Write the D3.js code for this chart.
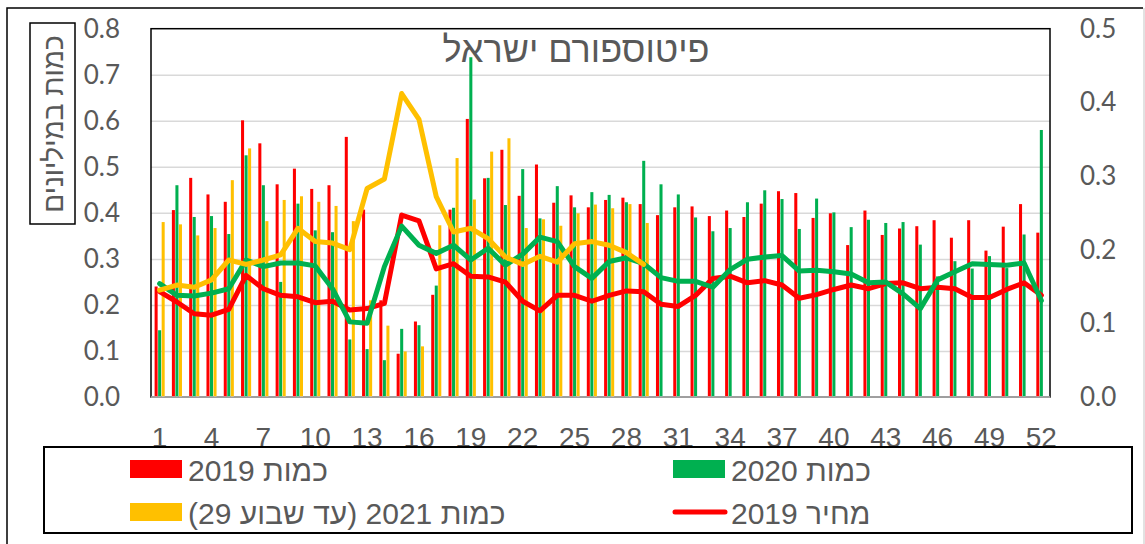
<!DOCTYPE html>
<html>
<head>
<meta charset="utf-8">
<script src="https://cdn.jsdelivr.net/npm/d3@7"></script>
<style>
  html, body { margin: 0; padding: 0; background: #fff; }
  svg { display: block; }
</style>
</head>
<body>
<svg id="chart" width="1145" height="544"></svg>
<script>

// weekly data

var weeks = d3.range(1, 53);

var qty2019 = [0.240, 0.406, 0.476, 0.440, 0.424, 0.601, 0.551, 0.462, 0.496, 0.452,
               0.460, 0.565, 0.407, 0.210, 0.094, 0.164, 0.222, 0.407, 0.604, 0.475,
               0.537, 0.437, 0.505, 0.422, 0.438, 0.412, 0.428, 0.433, 0.419, 0.395,
               0.412, 0.414, 0.393, 0.405, 0.391, 0.420, 0.447, 0.443, 0.389, 0.399,
               0.330, 0.405, 0.352, 0.366, 0.371, 0.384, 0.346, 0.384, 0.318, 0.370,
               0.419, 0.357];

var qty2020 = [0.145, 0.460, 0.391, 0.393, 0.354, 0.525, 0.460, 0.250, 0.420, 0.362,
               0.358, 0.125, 0.104, 0.080, 0.148, 0.156, 0.242, 0.411, 0.738, 0.476,
               0.417, 0.495, 0.388, 0.458, 0.412, 0.445, 0.439, 0.423, 0.513, 0.462,
               0.440, 0.390, 0.360, 0.367, 0.423, 0.449, 0.430, 0.365, 0.431, 0.401,
               0.369, 0.385, 0.378, 0.380, 0.331, 0.262, 0.295, 0.279, 0.306, 0.280,
               0.353, 0.580];

// 2021 only up to week 29
var qty2021 = [0.380, 0.375, 0.351, 0.367, 0.471, 0.540, 0.382, 0.428, 0.436, 0.424,
               0.415, 0.382, 0.210, 0.155, 0.099, 0.110, 0.373, 0.519, 0.429, 0.533,
               0.562, 0.367, 0.386, 0.372, 0.399, 0.418, 0.410, 0.419, 0.378];

var price2019 = [0.143, 0.129, 0.113, 0.111, 0.119, 0.165, 0.147, 0.138, 0.136, 0.128,
                 0.130, 0.118, 0.120, 0.127, 0.247, 0.239, 0.174, 0.181, 0.164, 0.163,
                 0.156, 0.130, 0.117, 0.138, 0.138, 0.130, 0.138, 0.144, 0.143, 0.126,
                 0.123, 0.138, 0.161, 0.164, 0.155, 0.158, 0.152, 0.134, 0.139, 0.146,
                 0.152, 0.147, 0.154, 0.155, 0.147, 0.149, 0.147, 0.135, 0.135, 0.146,
                 0.155, 0.138];

var price2020 = [0.154, 0.138, 0.137, 0.141, 0.147, 0.186, 0.177, 0.182, 0.182, 0.178,
                 0.147, 0.102, 0.100, 0.177, 0.232, 0.206, 0.195, 0.206, 0.186, 0.202,
                 0.179, 0.194, 0.217, 0.211, 0.177, 0.161, 0.184, 0.189, 0.181, 0.162,
                 0.157, 0.157, 0.149, 0.173, 0.187, 0.190, 0.192, 0.171, 0.172, 0.170,
                 0.167, 0.155, 0.156, 0.140, 0.120, 0.159, 0.170, 0.181, 0.180, 0.179,
                 0.182, 0.131];

var price2021 = [0.145, 0.152, 0.149, 0.159, 0.186, 0.180, 0.186, 0.193, 0.229, 0.211,
                 0.209, 0.200, 0.283, 0.296, 0.412, 0.377, 0.272, 0.224, 0.229, 0.215,
                 0.190, 0.180, 0.191, 0.183, 0.208, 0.211, 0.206, 0.196, 0.180];

var leftTicks = [0, 0.1, 0.2, 0.3, 0.4, 0.5, 0.6, 0.7, 0.8];
var rightTicks = [0, 0.1, 0.2, 0.3, 0.4, 0.5];
var weekLabels = weeks.filter(function(w) { return (w - 1) % 3 === 0; });

var title = "פיטוספורם ישראל";
var yTitle = "כמות במיליונים";
var RLM = "\u200F";

var barSeries = [
    { key: "2019", values: qty2019, color: "#FF0000", label: "כמות 2019" },
    { key: "2020", values: qty2020, color: "#00B050", label: "כמות 2020" },
    { key: "2021", values: qty2021, color: "#FFC000", label: "כמות 2021 (עד שבוע 29)" }
];

var lineSeries = [
    { key: "p2019", values: price2019, color: "#FF0000", label: "מחיר 2019" },
    { key: "p2020", values: price2020, color: "#00B050" },
    { key: "p2021", values: price2021, color: "#FFC000" }
];

// layout

var plot = { left: 151, right: 1050, top: 28.7, bottom: 397 };
var textGray = "#595959";
var hebFont = "'Liberation Sans', 'DejaVu Sans', sans-serif";

var svg = d3.select("#chart");

var x0 = d3.scaleBand()
    .domain(weeks)
    .range([plot.left, plot.right])
    .padding(0);

var x1 = d3.scaleBand()
    .domain(barSeries.map(function(s) { return s.key; }))
    .range([3.6, x0.bandwidth() - 3.6])
    .paddingInner(0.14);

var yLeft = d3.scaleLinear().domain([0, 0.8]).range([plot.bottom, plot.top]);
var yRight = d3.scaleLinear().domain([0, 0.5]).range([plot.bottom, plot.top]);

// outer chart frame
svg.append("path")
    .attr("d", "M7,560 L7,8 L1143,8")
    .attr("fill", "none")
    .attr("stroke", "#000")
    .attr("stroke-width", 1.5);
svg.append("line")
    .attr("x1", 1144).attr("x2", 1144).attr("y1", 8).attr("y2", 544)
    .attr("stroke", "#d9d9d9").attr("stroke-width", 1.5);

// gridlines
svg.append("g")
    .attr("transform", "translate(" + plot.left + ",0)")
    .call(d3.axisLeft(yLeft)
        .tickValues(leftTicks.slice(1, -1))
        .tickSize(-(plot.right - plot.left))
        .tickFormat(""))
    .call(function(g) { g.select(".domain").remove(); })
    .selectAll("line")
    .attr("stroke", "#d9d9d9")
    .attr("stroke-width", 1.5);

// plot frame
svg.append("rect")
    .attr("x", plot.left)
    .attr("y", plot.top)
    .attr("width", plot.right - plot.left)
    .attr("height", plot.bottom - plot.top)
    .attr("fill", "none")
    .attr("stroke", "#000")
    .attr("stroke-width", 1.5);

// bars
var groups = svg.append("g").selectAll("g")
    .data(barSeries)
    .enter().append("g")
    .attr("fill", function(s) { return s.color; });

groups.selectAll("rect")
    .data(function(s) {
        return s.values.map(function(v, i) { return { key: s.key, week: weeks[i], value: v }; });
    })
    .enter().append("rect")
    .attr("x", function(d) { return x0(d.week) + x1(d.key); })
    .attr("width", x1.bandwidth())
    .attr("y", function(d) { return yLeft(d.value); })
    .attr("height", function(d) { return plot.bottom - yLeft(d.value); });

// x axis line
svg.append("line")
    .attr("x1", plot.left).attr("x2", plot.right)
    .attr("y1", plot.bottom).attr("y2", plot.bottom)
    .attr("stroke", "#bfbfbf")
    .attr("stroke-width", 1.5);

// price lines
var line = d3.line()
    .x(function(d, i) { return x0(weeks[i]) + x0.bandwidth() / 2; })
    .y(function(d) { return yRight(d); });

svg.append("g").selectAll("path")
    .data(lineSeries)
    .enter().append("path")
    .attr("d", function(s) { return line(s.values); })
    .attr("fill", "none")
    .attr("stroke", function(s) { return s.color; })
    .attr("stroke-width", 5)
    .attr("stroke-linejoin", "round")
    .attr("stroke-linecap", "round");

// axes
var leftAxis = svg.append("g")
    .attr("transform", "translate(" + plot.left + ",0)")
    .call(d3.axisLeft(yLeft).tickValues(leftTicks).tickSize(0).tickPadding(31).tickFormat(d3.format(".1f")));

var rightAxis = svg.append("g")
    .attr("transform", "translate(" + plot.right + ",0)")
    .call(d3.axisRight(yRight).tickValues(rightTicks).tickSize(0).tickPadding(30).tickFormat(d3.format(".1f")));

var bottomAxis = svg.append("g")
    .attr("transform", "translate(0," + plot.bottom + ")")
    .call(d3.axisBottom(x0).tickValues(weekLabels).tickSize(0).tickPadding(30));

[leftAxis, rightAxis, bottomAxis].forEach(function(g) {
    g.select(".domain").remove();
});

leftAxis.selectAll("text").attr("font-family", "Lato, 'Open Sans', sans-serif").attr("font-size", 26).attr("fill", textGray);
rightAxis.selectAll("text").attr("font-family", "Lato, 'Open Sans', sans-serif").attr("font-size", 26).attr("fill", textGray);
bottomAxis.selectAll("text").attr("font-family", "'Liberation Sans', Arial, sans-serif").attr("font-size", 28).attr("fill", textGray);

// title
svg.append("text")
    .attr("x", 576)
    .attr("y", 62)
    .attr("text-anchor", "middle")
    .attr("font-family", hebFont)
    .attr("font-size", 36)
    .attr("fill", textGray)
    .text(title);

// y axis title in its box
svg.append("rect")
    .attr("x", 30).attr("y", 23).attr("width", 45).attr("height", 201)
    .attr("fill", "#fff").attr("stroke", "#000").attr("stroke-width", 1.5);

svg.append("text")
    .attr("transform", "translate(53,124) rotate(-90)")
    .attr("text-anchor", "middle")
    .attr("dominant-baseline", "central")
    .attr("font-family", hebFont)
    .attr("font-size", 28)
    .attr("fill", textGray)
    .text(yTitle);

// legend
var legend = svg.append("g");

legend.append("rect")
    .attr("x", 44).attr("y", 447).attr("width", 1088).attr("height", 86)
    .attr("fill", "#fff").attr("stroke", "#000").attr("stroke-width", 2);

var legendItems = [
    { s: barSeries[0], x: 130, y: 469, type: "bar" },
    { s: barSeries[1], x: 673, y: 469, type: "bar" },
    { s: barSeries[2], x: 130, y: 512, type: "bar" },
    { s: lineSeries[0], x: 673, y: 512, type: "line" }
];

legendItems.forEach(function(item) {
    if (item.type === "bar") {
        legend.append("rect")
            .attr("x", item.x).attr("y", item.y - 9)
            .attr("width", 52).attr("height", 18)
            .attr("fill", item.s.color);
    } else {
        legend.append("line")
            .attr("x1", item.x + 2).attr("x2", item.x + 52)
            .attr("y1", item.y).attr("y2", item.y)
            .attr("stroke", item.s.color)
            .attr("stroke-width", 5)
            .attr("stroke-linecap", "round");
    }
    legend.append("text")
        .attr("x", item.x + 58)
        .attr("y", item.y + 1)
        .attr("dominant-baseline", "central")
        .attr("font-family", hebFont)
        .attr("font-size", 30)
        .attr("fill", textGray)
        .text(RLM + item.s.label + RLM);
});

</script>
</body>
</html>
